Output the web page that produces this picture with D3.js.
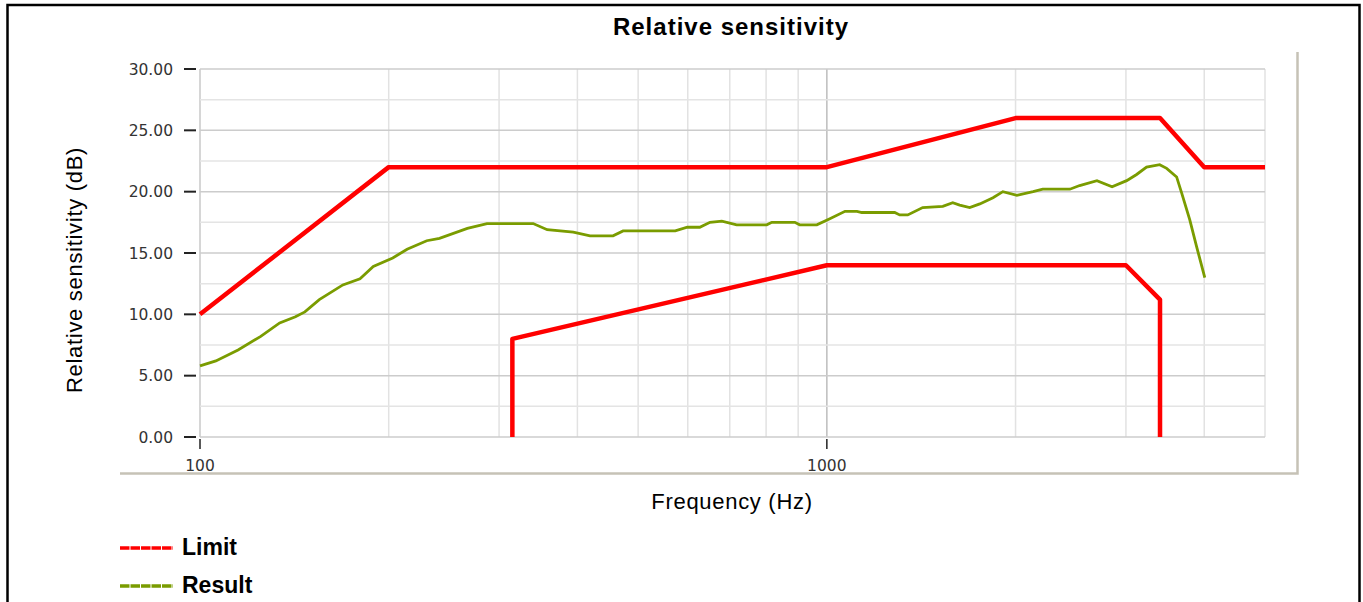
<!DOCTYPE html>
<html>
<head>
<meta charset="utf-8">
<script src="https://cdn.jsdelivr.net/npm/d3@7"></script>
<style>
    body { margin: 0; background: #fff; }
    svg { display: block; }
    .tick-label { font-family: "DejaVu Sans", sans-serif; font-size: 15.5px; fill: #333; }
</style>
</head>
<body>
<div id="chart"></div>
<script>
// upper and lower limit (Hz, dB)
var limitUpperFreq = [100, 200, 1000, 2000, 3400, 4000, 5000];
var limitUpperDb = [10, 22, 22, 26, 26, 22, 22];
var limitLowerFreq = [315, 315, 1000, 3000, 3400, 3400];
var limitLowerDb = [0, 8, 14, 14, 11.2, 0];

// measured response
var resultFreq = [100, 106, 115, 125, 134, 142, 147, 155, 169, 180, 189, 203, 214, 230, 241,
    267, 287, 340, 358, 394, 419, 456, 473, 573, 599, 627, 651, 680, 718, 802, 817, 889, 905,
    964, 1011, 1069, 1117, 1137, 1283, 1307, 1346, 1422, 1531, 1588, 1629, 1690, 1754, 1841,
    1909, 2010, 2133, 2210, 2442, 2531, 2697, 2851, 3008, 3120, 3236, 3396, 3484, 3614, 3681,
    3793, 3890, 4008];
var resultDb = [5.8, 6.2, 7.1, 8.2, 9.3, 9.8, 10.2, 11.2, 12.4, 12.9, 13.9, 14.6, 15.3, 16.0, 16.2,
    17.0, 17.4, 17.4, 16.9, 16.7, 16.4, 16.4, 16.8, 16.8, 17.1, 17.1, 17.5, 17.6, 17.3, 17.3, 17.5, 17.5, 17.3,
    17.3, 17.8, 18.4, 18.4, 18.3, 18.3, 18.1, 18.1, 18.7, 18.8, 19.1, 18.9, 18.7, 19.0, 19.5,
    20.0, 19.7, 20.0, 20.2, 20.2, 20.5, 20.9, 20.4, 20.9, 21.4, 22.0, 22.2, 21.9, 21.2, 19.9,
    17.7, 15.5, 13.0];

var yTicks = [0, 5, 10, 15, 20, 25, 30];
var xTickLabels = [100, 1000];

var WIDTH = 1363, HEIGHT = 602;

var svg = d3.select("#chart").append("svg")
    .attr("width", WIDTH)
    .attr("height", HEIGHT);

var x = d3.scaleLog().domain([100, 5000]).range([200, 1265]);
var y = d3.scaleLinear().domain([0, 30]).range([437, 69]);

// outer black frame
svg.append("rect")
    .attr("x", 7.5).attr("y", 5)
    .attr("width", 1352).attr("height", 620)
    .attr("fill", "none")
    .attr("stroke", "#000")
    .attr("stroke-width", 2.5);

// panel edge (bottom / right)
svg.append("path")
    .attr("d", "M120,473.5H1297.5V52")
    .attr("fill", "none")
    .attr("stroke", "#c6c2b6")
    .attr("stroke-width", 2.5);

svg.append("text")
    .attr("x", 731).attr("y", 35)
    .attr("text-anchor", "middle")
    .style("font-family", "Liberation Sans, Arial, sans-serif")
    .style("font-size", "24px")
    .style("font-weight", "bold")
    .style("letter-spacing", "1px")
    .text("Relative sensitivity");

// grid
var grid = svg.append("g").attr("id", "grid");
var vLines = d3.range(100, 1000, 100).concat(d3.range(1000, 5001, 1000));
grid.selectAll("line.v")
    .data(vLines).enter()
    .append("line")
    .attr("class", "v")
    .attr("x1", function (d) { return x(d); })
    .attr("x2", function (d) { return x(d); })
    .attr("y1", y(30)).attr("y2", y(0))
    .attr("stroke", function (d) {
        if (d == 1000) return "#bdbdbd";
        if (d == 100) return "#c8c8c8";
        return "#e2e2e2";
    })
    .attr("stroke-width", 1.5);

grid.selectAll("line.h")
    .data(d3.range(0, 30.1, 2.5)).enter()
    .append("line")
    .attr("class", "h")
    .attr("x1", x(100)).attr("x2", x(5000))
    .attr("y1", function (d) { return y(d); })
    .attr("y2", function (d) { return y(d); })
    .attr("stroke", function (d) { return d % 5 == 0 ? "#cccccc" : "#e4e4e4"; })
    .attr("stroke-width", 1.5);

// y axis ticks and labels
var yAxis = svg.append("g").attr("id", "y-axis");
yAxis.selectAll("line")
    .data(yTicks).enter()
    .append("line")
    .attr("x1", 184).attr("x2", 196)
    .attr("y1", function (d) { return y(d); })
    .attr("y2", function (d) { return y(d); })
    .attr("stroke", "#222")
    .attr("stroke-width", 2);
yAxis.selectAll("text")
    .data(yTicks).enter()
    .append("text")
    .attr("class", "tick-label")
    .attr("x", 173)
    .attr("y", function (d) { return y(d); })
    .attr("dy", "0.36em")
    .attr("text-anchor", "end")
    .text(function (d) { return d3.format(".2f")(d); });

// x axis ticks and labels
var xAxis = svg.append("g").attr("id", "x-axis");
xAxis.selectAll("line")
    .data(xTickLabels).enter()
    .append("line")
    .attr("x1", function (d) { return x(d); })
    .attr("x2", function (d) { return x(d); })
    .attr("y1", 439).attr("y2", 449)
    .attr("stroke", "#222")
    .attr("stroke-width", 1.5);
xAxis.selectAll("text")
    .data(xTickLabels).enter()
    .append("text")
    .attr("class", "tick-label")
    .attr("x", function (d) { return x(d); })
    .attr("y", 471)
    .attr("text-anchor", "middle")
    .text(function (d) { return d; });

svg.append("text")
    .attr("x", 732).attr("y", 509)
    .attr("text-anchor", "middle")
    .style("font-family", "Liberation Sans, Arial, sans-serif")
    .style("font-size", "22px")
    .style("letter-spacing", "0.7px")
    .text("Frequency (Hz)");

svg.append("text")
    .attr("transform", "translate(82,270)rotate(-90)")
    .attr("text-anchor", "middle")
    .style("font-family", "Liberation Sans, Arial, sans-serif")
    .style("font-size", "22px")
    .style("letter-spacing", "0.7px")
    .text("Relative sensitivity (dB)");

// series
var line = d3.line()
    .x(function (d) { return x(d[0]); })
    .y(function (d) { return y(d[1]); });

var plot = svg.append("g").attr("id", "series");
plot.append("path")
    .datum(d3.zip(resultFreq, resultDb))
    .attr("d", line)
    .attr("fill", "none")
    .attr("stroke", "#7a9c00")
    .attr("stroke-width", 2.8);

[d3.zip(limitUpperFreq, limitUpperDb), d3.zip(limitLowerFreq, limitLowerDb)].forEach(function (pts) {
    plot.append("path")
        .datum(pts)
        .attr("d", line)
        .attr("fill", "none")
        .attr("stroke", "#ff0000")
        .attr("stroke-width", 4.5)
        .attr("stroke-linejoin", "round");
});

// legend
var legend = svg.append("g").attr("id", "legend");
var items = [{name: "Limit", color: "#ff0000"}, {name: "Result", color: "#7a9c00"}];
legend.selectAll("line")
    .data(items).enter()
    .append("line")
    .attr("x1", 120).attr("x2", 173)
    .attr("y1", function (d, i) { return 548 + i * 38; })
    .attr("y2", function (d, i) { return 548 + i * 38; })
    .attr("stroke", function (d) { return d.color; })
    .attr("stroke-width", 3.5)
    .attr("stroke-dasharray", "9.5,1");
legend.selectAll("text")
    .data(items).enter()
    .append("text")
    .attr("x", 182)
    .attr("y", function (d, i) { return 555 + i * 38; })
    .style("font-family", "Liberation Sans, Arial, sans-serif")
    .style("font-size", "23px")
    .style("font-weight", "bold")
    .text(function (d) { return d.name; });
</script>
</body>
</html>
